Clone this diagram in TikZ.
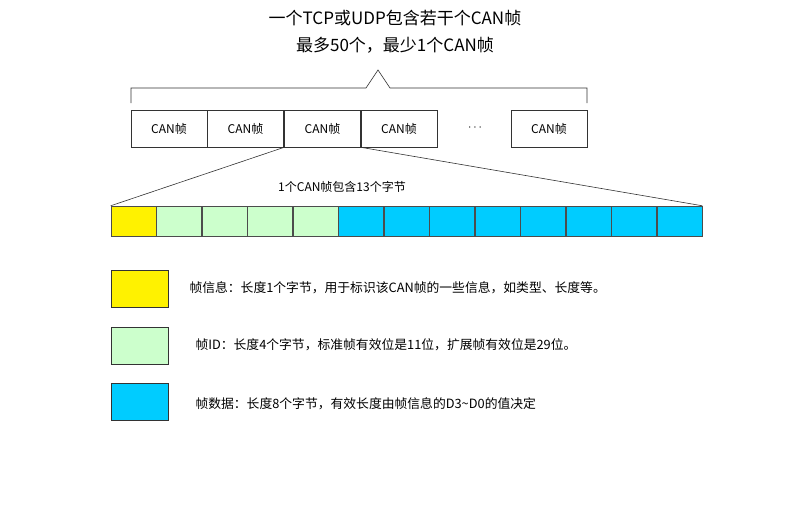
\documentclass[tikz,border=0pt]{standalone}
\usepackage{fontspec}
\setmainfont{Noto Sans CJK SC}
\begin{document}
\begin{tikzpicture}[x=1pt,y=-1pt,
  box/.style={draw=black!80,line width=0.6pt,minimum width=76pt,minimum height=37pt,inner sep=0,font=\fontsize{12}{14}\selectfont},
  cell/.style={draw=black!70,line width=0.5pt,minimum width=45.46pt,minimum height=30pt,inner sep=0},
  leg/.style={draw=black!80,line width=0.6pt,minimum width=57pt,minimum height=37pt,inner sep=0},
  ltxt/.style={anchor=west,font=\fontsize{12.8}{15}\selectfont},
  ln/.style={draw=black!80,line width=0.6pt}]
\useasboundingbox (0,0) rectangle (809,512);
\node[font=\fontsize{17}{27}\selectfont,align=center] (title) at (395,32) {一个TCP或UDP包含若干个CAN帧\\最多50个，最少1个CAN帧};
\coordinate (bl) at (131,103); \coordinate (br) at (587,103);
\coordinate (peak) at (378,70);
\draw[ln] (bl) -- (131,88) -- (366,88) -- (peak) -- (390,88) -- (587,88) -- (br);
\foreach \i/\x in {1/169,2/245.5,3/322.5,4/399}{\node[box] (c\i) at (\x,128.5) {CAN帧};}
\node[font=\fontsize{12}{14}\selectfont] (dots) at (475,128) {$\cdots$};
\node[box] (c5) at (549,128.5) {CAN帧};
\foreach \i in {1,...,13}{
  \pgfmathsetmacro\xx{111+45.46*(\i-0.5)}
  \node[cell] (b\i) at (\xx,221) {};}
\fill[yellow] (b1.south west) rectangle (b1.north east);
\foreach \i in {6,...,13}{\fill[fill={rgb,255:red,0;green,204;blue,255}] (b\i.south west) rectangle (b\i.north east);}
\foreach \i in {2,...,5}{\fill[fill={rgb,255:red,204;green,255;blue,204}] (b\i.south west) rectangle (b\i.north east);}
\foreach \i in {1,...,13}{\draw[black!70,line width=0.5pt] (b\i.south west) rectangle (b\i.north east);}
\draw[ln] (c3.south west) -- (b1.north west);
\draw[ln] (c3.south east) -- (b13.north east);
\node[font=\fontsize{12}{14}\selectfont] (lbl) at (342,187) {1个CAN帧包含13个字节};
\node[leg,fill=yellow] (l1) at (139.5,288.5) {};
\node[leg,fill={rgb,255:red,204;green,255;blue,204}] (l2) at (139.5,345.5) {};
\node[leg,fill={rgb,255:red,0;green,204;blue,255}] (l3) at (139.5,401.5) {};
\node[ltxt] (t1) at (186,288) {帧信息：长度1个字节，用于标识该CAN帧的一些信息，如类型、长度等。};
\node[ltxt] (t2) at (192,345) {帧ID：长度4个字节，标准帧有效位是11位，扩展帧有效位是29位。};
\node[ltxt] (t3) at (192,404) {帧数据：长度8个字节，有效长度由帧信息的D3\textasciitilde D0的值决定};
\end{tikzpicture}
\end{document}
